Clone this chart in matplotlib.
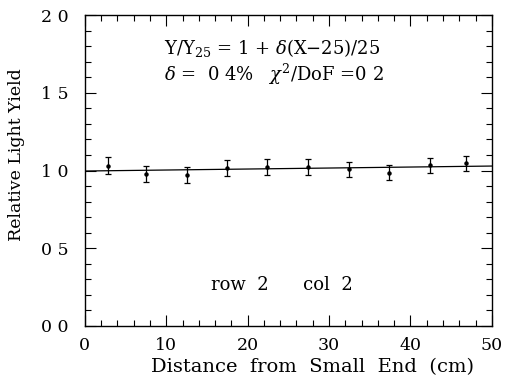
import numpy as np
import matplotlib
matplotlib.use("Agg")
import matplotlib.pyplot as plt
from matplotlib.ticker import MultipleLocator, FixedLocator, FixedFormatter

plt.rcParams['font.family'] = 'DejaVu Serif'
plt.rcParams['mathtext.fontset'] = 'dejavuserif'

# data
distance = [2.8, 7.5, 12.5, 17.5, 22.4, 27.4, 32.4, 37.4, 42.4, 46.8]
light_yield = [1.031, 0.977, 0.973, 1.016, 1.021, 1.021, 1.008, 0.986, 1.033, 1.046]
yield_err = [0.054, 0.052, 0.052, 0.052, 0.051, 0.051, 0.047, 0.047, 0.050, 0.050]

# linear fit Y/Y25 = 1 + delta (X-25)/25
fit_x = [0, 50]
fit_y = [0.997, 1.029]

y_ticks = [0.0, 0.5, 1.0, 1.5, 2.0]
y_tick_labels = ["0 0", "0 5", "1 0", "1 5", "2 0"]
x_ticks = [0, 10, 20, 30, 40, 50]
x_tick_labels = ["0", "10", "20", "30", "40", "50"]

fig = plt.figure(figsize=(5.05, 3.79), dpi=100)
ax = fig.add_axes([0.168, 0.140, 0.806, 0.820])

ax.plot(fit_x, fit_y, color='black', lw=0.9)
ax.errorbar(distance, light_yield, yerr=yield_err, fmt='o', ms=2.2,
            color='black', ecolor='black', elinewidth=0.9, capsize=2.3, capthick=0.9)

ax.set_xlim(0, 50)
ax.set_ylim(0, 2)
ax.xaxis.set_major_locator(FixedLocator(x_ticks))
ax.xaxis.set_major_formatter(FixedFormatter(x_tick_labels))
ax.yaxis.set_major_locator(FixedLocator(y_ticks))
ax.yaxis.set_major_formatter(FixedFormatter(y_tick_labels))
ax.xaxis.set_minor_locator(MultipleLocator(2))
ax.yaxis.set_minor_locator(MultipleLocator(0.1))
ax.tick_params(which='both', direction='in', top=True, right=True,
               labelsize=12.5, width=0.8, color='black')
ax.tick_params(which='major', length=8)
ax.tick_params(which='minor', length=4)
ax.tick_params(axis='y', which='major', pad=12)
ax.tick_params(axis='x', which='major', pad=8)
for s in ax.spines.values():
    s.set_linewidth(1.0)

ax.set_xlabel("Distance  from  Small  End  (cm)", fontsize=14)
ax.set_ylabel("Relative Light Yield", fontsize=12.5)
ax.xaxis.set_label_coords(0.56, -0.105)
ax.yaxis.set_label_coords(-0.147, 0.55)

ax.text(0.195, 0.875, r"Y/Y$_{25}$ = 1 + $\delta$(X$-$25)/25", transform=ax.transAxes,
        fontsize=13)
ax.text(0.195, 0.79, r"$\delta$ =  0 4%   $\chi^2$/DoF =0 2", transform=ax.transAxes,
        fontsize=13)
ax.text(0.31, 0.115, "row  2      col  2", transform=ax.transAxes, fontsize=13)

fig.savefig("out.png", dpi=100)
